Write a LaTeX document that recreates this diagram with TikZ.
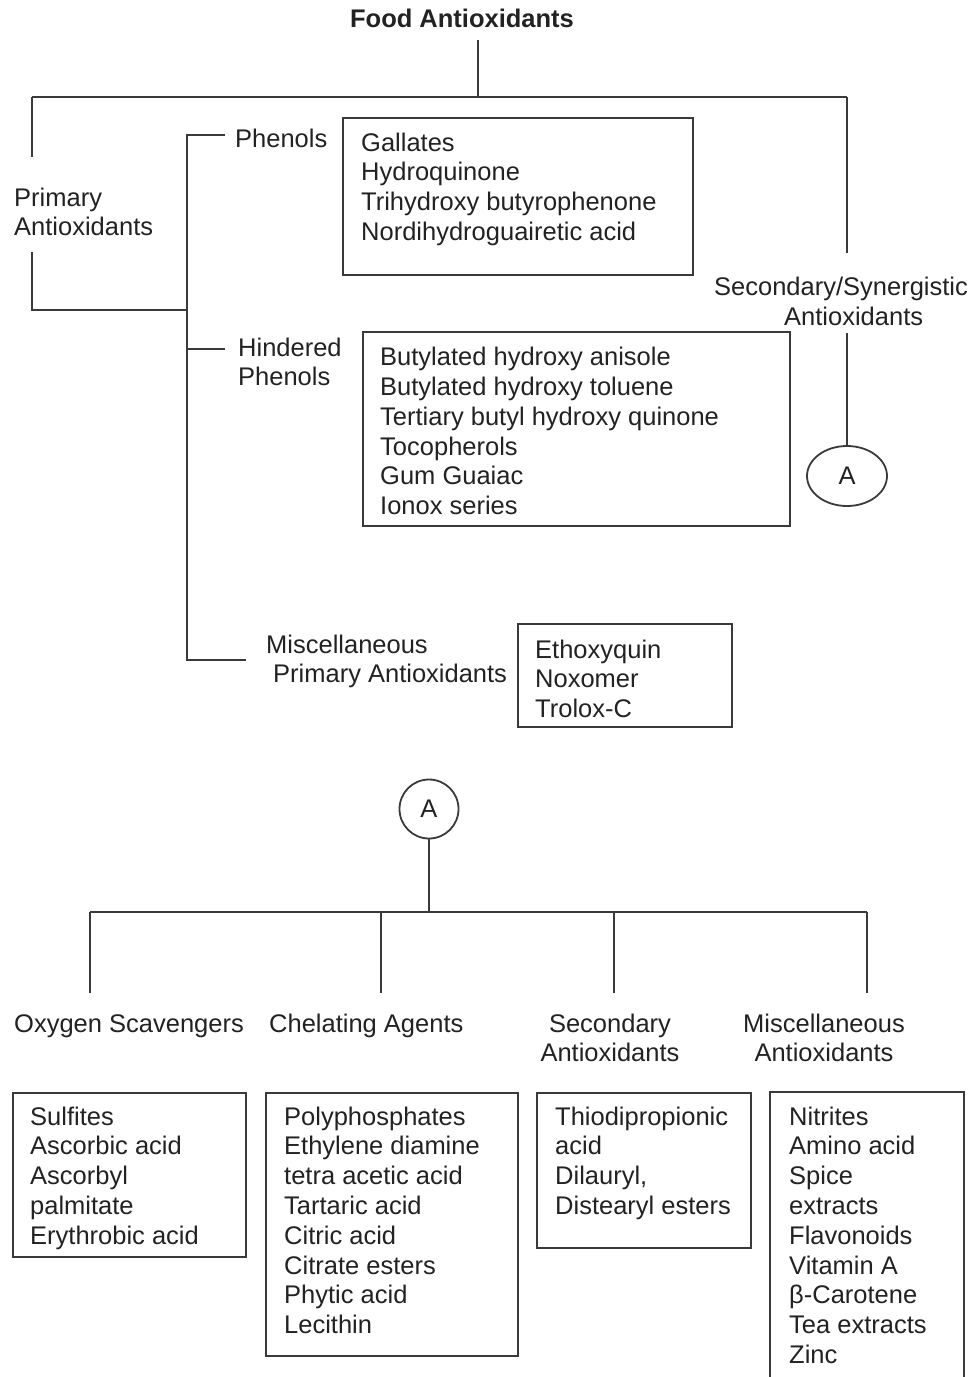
\documentclass[tikz,border=0pt]{standalone}
\usepackage{fontspec}
\setmainfont{Liberation Sans}
\usetikzlibrary{shapes.geometric}
\newcommand\myfs{\fontsize{25.5}{29.8}\selectfont}
\definecolor{ink}{HTML}{222222}
\definecolor{lncol}{HTML}{3A3A3A}
\tikzset{
  ln/.style={line width=1.8pt, draw=lncol},
  txt/.style={inner sep=0pt, text=ink, font=\myfs},
  lst/.style={txt, anchor=north west, align=left},
  ctr/.style={txt, anchor=north, align=center},
  boxa/.style={ln, anchor=north west, inner sep=0pt},
}
\begin{document}
\begin{tikzpicture}[x=1pt,y=-1pt]
\useasboundingbox (0,0) rectangle (977,1377);
% title
\node[txt, font=\myfs\bfseries, anchor=base] (title) at (462,27) {Food Antioxidants};
\coordinate (t0) at (478,40);
\coordinate (t1) at (478,97);
\coordinate (tl) at (32,97);
\coordinate (tr) at (847,97);
\draw[ln] (t0) -- (t1);
\draw[ln] (tl) -- (tr);
% primary
\node[lst] (prim) at (14,185.1) {\strut Primary\\Antioxidants};
\coordinate (p1) at (32,157);
\coordinate (p2) at (32,252);
\coordinate (p3) at (32,310);
\coordinate (p4) at (187,310);
\draw[ln] (tl) -- (p1);
\draw[ln] (p2) -- (p3) -- (p4);
% spine
\coordinate (s0) at (187,135);
\coordinate (s1) at (187,349);
\coordinate (s2) at (187,660);
\coordinate (k0) at (225,135);
\coordinate (k1) at (225,349);
\coordinate (k2) at (246,660);
\draw[ln] (k0) -- (s0) -- (s2) -- (k2);
\draw[ln] (s1) -- (k1);
% phenols
\node[txt, anchor=base west] (phen) at (235,147) {Phenols};
\node[boxa, minimum width=350pt, minimum height=157pt] (bph) at (342,117) {};
\node[lst] (tph) at (361,130.1) {\strut Gallates\\Hydroquinone\\Trihydroxy butyrophenone\\Nordihydroguairetic acid};
% hindered
\node[lst] (hind) at (238,335.1) {\strut Hindered\\Phenols};
\node[boxa, minimum width=427pt, minimum height=194pt] (bhi) at (362,331) {};
\node[lst] (thi) at (380,344.6) {\strut Butylated hydroxy anisole\\Butylated hydroxy toluene\\Tertiary butyl hydroxy quinone\\Tocopherols\\Gum Guaiac\\Ionox series};
% misc primary
\node[lst] (misp) at (266,632.1) {\strut Miscellaneous\\\hspace*{7pt}Primary Antioxidants};
\node[boxa, minimum width=214pt, minimum height=103pt] (bmi) at (517,623) {};
\node[lst] (tmi) at (535,637.1) {\strut Ethoxyquin\\Noxomer\\Trolox-C};
% secondary / synergistic
\node[lst] (secs) at (714,274.6) {\strut Secondary/Synergistic\\\hspace*{70pt}Antioxidants};
\coordinate (r1) at (847,253);
\coordinate (r2) at (847,333);
\draw[ln] (tr) -- (r1);
\node[ellipse, ln, txt, minimum width=80pt, minimum height=60pt] (A1) at (847,476) {A};
\draw[ln] (r2) -- (A1.north);
% lower part
\node[circle, ln, txt, minimum size=59pt] (A2) at (429,809) {A};
\coordinate (bj) at (429,912);
\draw[ln] (A2.south) -- (bj);
\coordinate (b0) at (90,912);
\coordinate (b1) at (381,912);
\coordinate (b2) at (614,912);
\coordinate (b3) at (867,912);
\coordinate (d0) at (90,993);
\coordinate (d1) at (381,993);
\coordinate (d2) at (614,993);
\coordinate (d3) at (867,993);
\draw[ln] (b0) -- (b3);
\draw[ln] (b0) -- (d0);
\draw[ln] (b1) -- (d1);
\draw[ln] (b2) -- (d2);
\draw[ln] (b3) -- (d3);
\node[txt, anchor=base west] (oxy) at (14,1032) {Oxygen Scavengers};
\node[txt, anchor=base west] (che) at (269,1032) {Chelating Agents};
\node[ctr] (sec) at (610,1011.1) {\strut Secondary\\Antioxidants};
\node[ctr] (mis) at (824,1011.1) {\strut Miscellaneous\\Antioxidants};
% bottom boxes
\node[boxa, minimum width=233pt, minimum height=164pt] (bx1) at (12,1092) {};
\node[lst] (tx1) at (30,1104.1) {\strut Sulfites\\Ascorbic acid\\Ascorbyl\\palmitate\\Erythrobic acid};
\node[boxa, minimum width=252pt, minimum height=263pt] (bx2) at (265,1092) {};
\node[lst] (tx2) at (284,1104.1) {\strut Polyphosphates\\Ethylene diamine\\tetra acetic acid\\Tartaric acid\\Citric acid\\Citrate esters\\Phytic acid\\Lecithin};
\node[boxa, minimum width=214pt, minimum height=155pt] (bx3) at (536,1092) {};
\node[lst] (tx3) at (555,1104.1) {\strut Thiodipropionic\\acid\\Dilauryl,\\Distearyl esters};
\coordinate (q0) at (770,1377);
\coordinate (q1) at (770,1092);
\coordinate (q2) at (964,1092);
\coordinate (q3) at (964,1377);
\draw[ln] (q0) -- (q1) -- (q2) -- (q3);
\node[lst] (tx4) at (789,1104.1) {\strut Nitrites\\Amino acid\\Spice\\extracts\\Flavonoids\\Vitamin A\\β-Carotene\\Tea extracts\\Zinc};
\end{tikzpicture}
\end{document}
